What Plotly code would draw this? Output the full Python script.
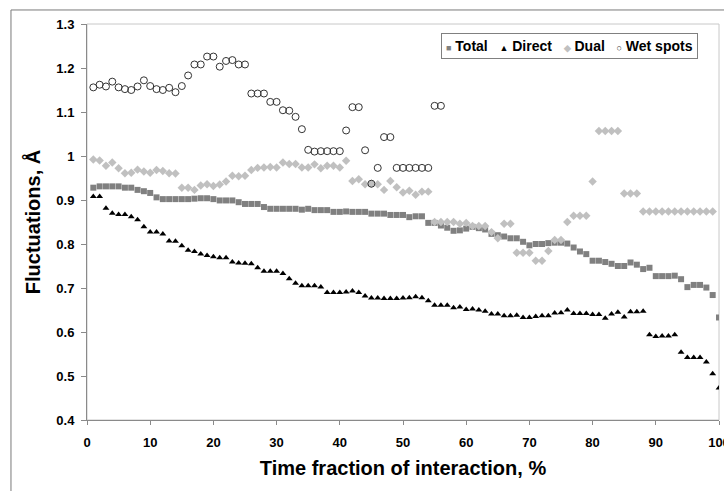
import plotly.graph_objects as go

# Fraction of the interaction time (%) at which each fluctuation value was sampled
time_total = list(range(1, 101))
time_direct = list(range(1, 101))
time_dual = list(range(1, 100))
time_wet = list(range(1, 57))

total = [
    0.928, 0.931, 0.931, 0.931, 0.931, 0.928, 0.928, 0.923, 0.920, 0.916,
    0.906, 0.902, 0.902, 0.902, 0.902, 0.902, 0.903, 0.904, 0.904, 0.902,
    0.899, 0.899, 0.899, 0.895, 0.891, 0.891, 0.891, 0.884, 0.880, 0.880,
    0.880, 0.880, 0.880, 0.878, 0.880, 0.877, 0.877, 0.877, 0.873, 0.873,
    0.874, 0.873, 0.873, 0.873, 0.869, 0.869, 0.869, 0.866, 0.866, 0.866,
    0.861, 0.863, 0.863, 0.848, 0.848, 0.842, 0.837, 0.830, 0.831, 0.835,
    0.839, 0.836, 0.833, 0.823, 0.820, 0.817, 0.813, 0.813, 0.805, 0.797,
    0.800, 0.800, 0.802, 0.803, 0.803, 0.801, 0.792, 0.783, 0.777, 0.762,
    0.762, 0.759, 0.755, 0.750, 0.750, 0.758, 0.753, 0.743, 0.746, 0.727,
    0.727, 0.727, 0.728, 0.720, 0.702, 0.707, 0.707, 0.701, 0.684, 0.633,
]

direct = [
    0.908, 0.908, 0.881, 0.870, 0.867, 0.867, 0.862, 0.855, 0.839, 0.827,
    0.827, 0.823, 0.807, 0.806, 0.796, 0.786, 0.783, 0.777, 0.774, 0.771,
    0.769, 0.769, 0.759, 0.757, 0.756, 0.755, 0.746, 0.738, 0.738, 0.738,
    0.733, 0.721, 0.711, 0.705, 0.705, 0.705, 0.702, 0.690, 0.690, 0.690,
    0.691, 0.693, 0.690, 0.682, 0.677, 0.677, 0.676, 0.676, 0.676, 0.677,
    0.678, 0.680, 0.678, 0.671, 0.661, 0.661, 0.661, 0.655, 0.657, 0.651,
    0.652, 0.650, 0.647, 0.641, 0.641, 0.637, 0.637, 0.638, 0.633, 0.633,
    0.635, 0.637, 0.637, 0.643, 0.644, 0.650, 0.642, 0.642, 0.642, 0.640,
    0.640, 0.631, 0.641, 0.645, 0.634, 0.646, 0.646, 0.647, 0.594, 0.590,
    0.591, 0.591, 0.594, 0.554, 0.542, 0.542, 0.542, 0.532, 0.505, 0.473,
]

dual = [
    0.992, 0.990, 0.978, 0.985, 0.972, 0.961, 0.962, 0.969, 0.965, 0.962,
    0.968, 0.966, 0.961, 0.960, 0.928, 0.928, 0.923, 0.933, 0.936, 0.932,
    0.935, 0.942, 0.955, 0.954, 0.955, 0.968, 0.973, 0.974, 0.975, 0.974,
    0.985, 0.982, 0.982, 0.974, 0.974, 0.981, 0.972, 0.978, 0.978, 0.974,
    0.989, 0.943, 0.947, 0.936, 0.937, 0.936, 0.923, 0.943, 0.929, 0.917,
    0.921, 0.912, 0.919, 0.919, 0.850, 0.850, 0.850, 0.850, 0.846, 0.848,
    0.841, 0.841, 0.841, 0.827, 0.813, 0.846, 0.846, 0.780, 0.780, 0.780,
    0.762, 0.762, 0.784, 0.809, 0.809, 0.850, 0.864, 0.864, 0.864, 0.942,
    1.057, 1.057, 1.057, 1.057, 0.915, 0.915, 0.915, 0.874, 0.874, 0.874,
    0.874, 0.874, 0.874, 0.874, 0.874, 0.874, 0.874, 0.874, 0.874,
]

wet_spots = [
    1.156, 1.162, 1.158, 1.169, 1.156, 1.152, 1.150, 1.158, 1.172, 1.159,
    1.152, 1.150, 1.155, 1.145, 1.159, 1.183, 1.208, 1.208, 1.226, 1.226,
    1.203, 1.216, 1.218, 1.208, 1.208, 1.142, 1.142, 1.142, 1.123, 1.123,
    1.104, 1.103, 1.089, 1.061, 1.014, 1.010, 1.011, 1.011, 1.011, 1.011,
    1.058, 1.111, 1.111, 1.013, 0.937, 0.973, 1.043, 1.043, 0.973, 0.973,
    0.973, 0.973, 0.973, 0.973, 1.114, 1.114,
]

series_names = ["Total", "Direct", "Dual", "Wet spots"]
y_ticks = [0.4, 0.5, 0.6, 0.7, 0.8, 0.9, 1.0, 1.1, 1.2, 1.3]
y_tick_labels = ["0.4", "0.5", "0.6", "0.7", "0.8", "0.9", "1", "1.1", "1.2", "1.3"]
x_ticks = [0, 10, 20, 30, 40, 50, 60, 70, 80, 90, 100]

FONT = "Liberation Sans, Arial, sans-serif"
AXIS_GRAY = "#8a8a8a"

fig = go.Figure()

fig.add_trace(go.Scatter(
    x=time_total, y=total, mode="markers", name=series_names[0],
    marker=dict(symbol="square", size=6, color="#808080"),
))
fig.add_trace(go.Scatter(
    x=time_direct, y=direct, mode="markers", name=series_names[1],
    marker=dict(symbol="triangle-up", size=6, color="#000000"),
))
fig.add_trace(go.Scatter(
    x=time_dual, y=dual, mode="markers", name=series_names[2],
    marker=dict(symbol="diamond", size=6.5, color="#c0c0c0"),
))
fig.add_trace(go.Scatter(
    x=time_wet, y=wet_spots, mode="markers", name=series_names[3],
    marker=dict(symbol="circle-open", size=7, color="#333333",
                line=dict(width=1, color="#333333")),
))

# Compact boxed legend row: small coloured glyph followed by the series name
glyphs = [("■", "#808080"), ("▲", "#000000"), ("◆", "#c0c0c0"), ("○", "#333333")]
parts = []
for (g, c), name in zip(glyphs, series_names):
    parts.append(f"<span style='color:{c};font-size:9px'>{g}</span>&nbsp;{name}")
legend_text = "&nbsp;&nbsp;&nbsp;".join(parts)

tick_font = dict(family=FONT, size=13, weight="bold", color="#000000")
title_font = dict(family=FONT, size=20, weight="bold", color="#000000")

fig.update_layout(
    width=724, height=491,
    margin=dict(l=87, r=5, t=24, b=71),
    paper_bgcolor="white", plot_bgcolor="white",
    showlegend=False,
    font=dict(family=FONT, color="#000000", size=12),
    xaxis=dict(
        range=[0, 100], tickvals=x_ticks, ticks="outside", ticklen=4,
        tickcolor=AXIS_GRAY, showline=True, linecolor=AXIS_GRAY, linewidth=1,
        showgrid=False, zeroline=False, automargin=False,
        tickfont=tick_font, ticklabeloverflow="allow",
        ticklabelstandoff=6,
        title=dict(text="Time fraction of interaction, %",
                   font=title_font, standoff=12),
    ),
    yaxis=dict(
        range=[0.4, 1.3], tickvals=y_ticks, ticktext=y_tick_labels,
        ticks="outside", ticklen=5, tickcolor=AXIS_GRAY,
        showline=True, linecolor=AXIS_GRAY, linewidth=1,
        showgrid=False, zeroline=False, automargin=False,
        tickfont=tick_font,
        ticklabelstandoff=4,
        title=dict(text="Fluctuations, Å", font=title_font, standoff=10),
    ),
    shapes=[
        # light frame around the plotting area
        dict(type="rect", xref="paper", yref="paper", x0=0, y0=0, x1=1, y1=1,
             line=dict(color="#c8c8c8", width=1), layer="below"),
        # outer chart-area frame
        dict(type="rect", xref="paper", yref="paper",
             x0=-0.1203, y0=-0.3, x1=1.05, y1=1.0354,
             line=dict(color="#7a7a7a", width=1), layer="below"),
    ],
    annotations=[
        dict(text=legend_text, xref="paper", yref="paper",
             x=0.9668, y=0.977, xanchor="right", yanchor="top",
             showarrow=False, align="left",
             font=dict(family=FONT, size=14, weight="bold", color="#000000"),
             bordercolor="#808080", borderwidth=1, borderpad=4,
             bgcolor="white"),
    ],
)

fig.write_html("out.html")
